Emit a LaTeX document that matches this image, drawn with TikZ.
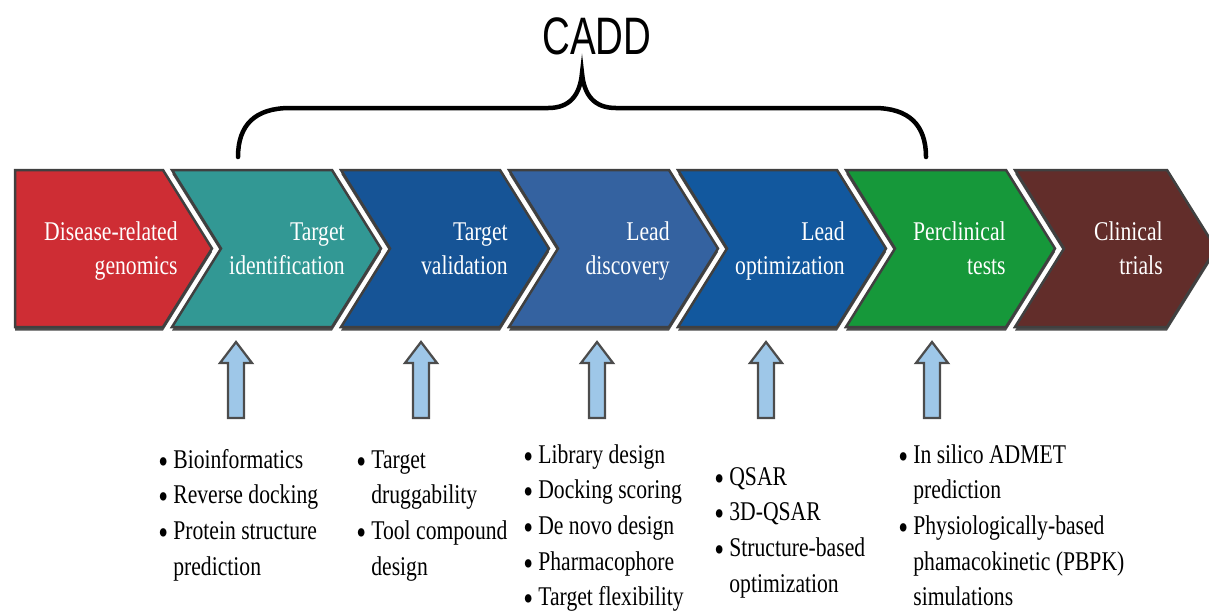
\documentclass[tikz,border=0pt]{standalone}
\usepackage{fontspec}
\setmainfont{Liberation Serif}[FakeStretch=0.8]
\newfontfamily\caddfont{Liberation Sans}[FakeStretch=0.73]
\usetikzlibrary{shadows}

\definecolor{genred}{RGB}{206,45,52}
\definecolor{idteal}{RGB}{50,152,148}
\definecolor{valblue}{RGB}{22,84,150}
\definecolor{discblue}{RGB}{52,98,160}
\definecolor{optblue}{RGB}{18,88,158}
\definecolor{preggreen}{RGB}{22,152,58}
\definecolor{trialbrown}{RGB}{98,45,42}
\definecolor{arrowblue}{RGB}{158,199,232}

\newcommand{\stagetext}[2]{\begin{tabular}[t]{@{}r@{}}#1\\#2\end{tabular}}
\newcommand{\bul}{\makebox[0.3cm][l]{\smash{\raisebox{-0.1cm}{\fontsize{20}{20}\selectfont\textbullet}}}}
\newcommand{\ind}{\hspace*{0.3cm}}

\tikzset{
	stage/.style={draw=black!75, line width=0.05cm, line join=miter,
		drop shadow={shadow xshift=0cm, shadow yshift=-0.07cm, opacity=1, fill=black!70}},
	stagelabel/.style={anchor=base east, inner sep=0pt, text=white,
		font=\fontsize{15.4}{19.4}\selectfont},
	toollist/.style={anchor=base west, inner sep=0pt,
		font=\fontsize{15.4}{20.3}\selectfont},
	toolarrow/.style={draw=black!70, line width=0.045cm, fill=arrowblue, line join=miter}
}

\begin{document}
\begin{tikzpicture}[x=0.02cm, y=-0.02cm]
	\clip (0,0) rectangle (1209,610);
	
	%titolo
	\node[font=\caddfont\fontsize{30}{36}\selectfont, inner sep=0pt] (cadd) at (597,36) {CADD};
	\draw[line width=0.09cm, line cap=round] (238,157) .. controls (238,125) and (255,108) .. (290,108)
		-- (548,108) .. controls (570,108) and (580,95) .. (582,73)
		.. controls (584,95) and (594,108) .. (616,108)
		-- (874,108) .. controls (909,108) and (926,125) .. (926,157);
	
	%fasi
	\draw[stage, fill=genred] (15,170) -- (163,170) -- (212,248.5) -- (163,327) -- (15,327) -- cycle;
	\foreach \l/\r/\col in {172/332/idteal, 341/500/valblue, 509/669/discblue,
		678/837/optblue, 846/1006/preggreen, 1015/1167/trialbrown}
		\draw[stage, fill=\col] (\l,170) -- (\r,170) -- (\r+49,248.5) -- (\r,327)
			-- (\l,327) -- (\l+49,248.5) -- cycle;
	
	\node[stagelabel] (genomics) at (178,240) {\stagetext{Disease-related}{genomics}};
	\node[stagelabel] (identification) at (345,240) {\stagetext{Target}{identification}};
	\node[stagelabel] (validation) at (508,240) {\stagetext{Target}{validation}};
	\node[stagelabel] (discovery) at (670,240) {\stagetext{Lead}{discovery}};
	\node[stagelabel] (optimization) at (845,240) {\stagetext{Lead}{optimization}};
	\node[stagelabel] (preclinical) at (1006,240) {\stagetext{Perclinical}{tests}};
	\node[stagelabel] (trials) at (1163,240) {\stagetext{Clinical}{trials}};
	
	%frecce
	\foreach \x in {236,421,597,766,932}
		\draw[toolarrow] (\x,342) -- (\x+16,363) -- (\x+8,363) -- (\x+8,418)
			-- (\x-8,418) -- (\x-8,363) -- (\x-16,363) -- cycle;
	
	%metodi
	\node[toollist] (idtools) at (158,468) {\begin{tabular}[t]{@{}l@{}}
		\bul Bioinformatics\\ \bul Reverse docking\\ \bul Protein structure\\ \ind prediction\end{tabular}};
	\node[toollist] (valtools) at (356,468) {\begin{tabular}[t]{@{}l@{}}
		\bul Target\\ \ind druggability\\ \bul Tool compound\\ \ind design\end{tabular}};
	\node[toollist] (disctools) at (523,463) {\begin{tabular}[t]{@{}l@{}}
		\bul Library design\\ \bul Docking scoring\\ \bul De novo design\\ \bul Pharmacophore\\ \bul Target flexibility\end{tabular}};
	\node[toollist] (opttools) at (714,485) {\begin{tabular}[t]{@{}l@{}}
		\bul QSAR\\ \bul 3D-QSAR\\ \bul Structure-based\\ \ind optimization\end{tabular}};
	\node[toollist] (pretools) at (898,463) {\begin{tabular}[t]{@{}l@{}}
		\bul In silico ADMET\\ \ind prediction\\ \bul Physiologically-based\\ \ind phamacokinetic (PBPK)\\ \ind simulations\end{tabular}};
\end{tikzpicture}
\end{document}
